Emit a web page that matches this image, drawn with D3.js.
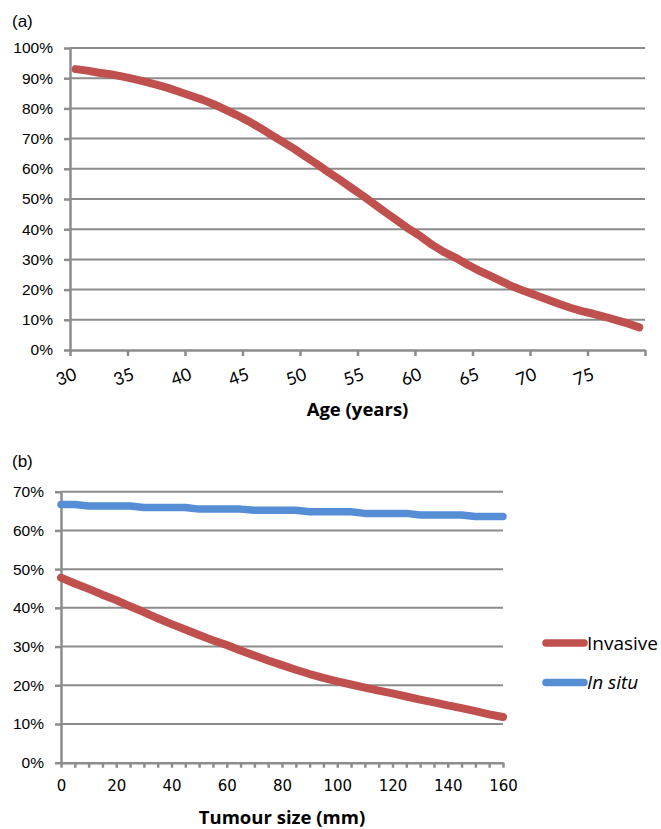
<!DOCTYPE html>
<html><head><meta charset="utf-8">
<script src="https://cdn.jsdelivr.net/npm/d3@7"></script>
<style>body{margin:0;background:#fff}svg{display:block}</style>
</head><body>
<script>
// ---- Data ----
const ages = d3.range(30, 80);
const ageProb = [93.0,92.5,91.8,91.3,90.6,89.8,88.9,87.9,86.8,85.5,
  84.2,82.9,81.4,79.6,77.8,75.8,73.6,71.2,68.9,66.6,
  64.0,61.5,58.8,56.3,53.6,51.0,48.2,45.4,42.7,40.0,
  37.6,34.8,32.5,30.6,28.4,26.4,24.6,22.8,21.0,19.5,
  18.1,16.7,15.3,14.0,12.9,12.0,11.0,9.9,8.8,7.5];
const ageTickLabels = [30,35,40,45,50,55,60,65,70,75];
const pctTicksA = [0,10,20,30,40,50,60,70,80,90,100];

const sizes = d3.range(0, 161, 5);
const invasive = [47.8,46.3,44.9,43.4,42.0,40.4,38.9,37.3,35.8,34.4,
  33.0,31.6,30.4,29.0,27.7,26.4,25.2,24.0,22.9,21.9,
  21.0,20.2,19.4,18.6,17.9,17.1,16.3,15.6,14.8,14.1,13.3,12.5,11.8];
const inSitu = [66.7,66.7,66.3,66.3,66.3,66.3,65.9,65.9,65.9,65.9,
  65.5,65.5,65.5,65.5,65.2,65.2,65.2,65.2,64.8,64.8,
  64.8,64.8,64.4,64.4,64.4,64.4,64.0,64.0,64.0,64.0,63.6,63.6,63.6];
const sizeTickLabels = [0,20,40,60,80,100,120,140,160];
const pctTicksB = [0,10,20,30,40,50,60,70];
const seriesNames = ["Invasive","In situ"];

const RED = "#c0504d", BLUE = "#558ed5", GRID = "#8c8c8c";

const svg = d3.select("body").append("svg").attr("width",661).attr("height",829);

// ---- Panel (a) ----
const xA = d3.scaleLinear().domain([29.5, 79.5]).range([70, 645]);
const yA = d3.scaleLinear().domain([0, 100]).range([350, 48]);
const gA = svg.append("g");
gA.append("text").attr("x",12).attr("y",27).text("(a)")
  .style("font-family","Liberation Sans, Arial").style("font-size","17px");
gA.selectAll("line.grid").data(pctTicksA.filter(d=>d>0)).join("line")
  .attr("x1",xA.range()[0]).attr("x2",xA.range()[1])
  .attr("y1",d=>yA(d)).attr("y2",d=>yA(d))
  .attr("stroke",GRID).attr("stroke-width",2);
const yAxA = d3.axisLeft(yA).tickValues(pctTicksA).tickFormat(d=>d+"%").tickSize(6).tickSizeOuter(0);
const gyA = gA.append("g").attr("transform",`translate(${xA.range()[0]},0)`).call(yAxA);
const xTickVals = d3.range(29.5, 80, 5);
const xAxA = d3.axisBottom(xA).tickValues(xTickVals).tickFormat("").tickSize(6).tickSizeOuter(0);
const gxA = gA.append("g").attr("transform",`translate(0,${yA(0)})`).call(xAxA);
[gyA,gxA].forEach(g=>{
  g.selectAll("path,line").attr("stroke",GRID).attr("stroke-width",2.5);
});
gyA.selectAll("text").style("font-family","Liberation Sans, Arial").style("font-size","15.5px")
  .attr("fill","#000").attr("x",-17);
gA.selectAll("text.xl").data(ageTickLabels).join("text").attr("class","xl")
  .attr("transform",d=>`translate(${xA(d)+2},379) rotate(-20)`)
  .attr("text-anchor","end").text(d=>d)
  .style("font-family","Lato, Open Sans").style("font-size","17.5px");
gA.append("text").attr("x",(xA.range()[0]+xA.range()[1])/2).attr("y",416)
  .attr("text-anchor","middle").text("Age (years)")
  .style("font-family","Open Sans").style("font-weight","bold").style("font-size","18.5px");
gA.append("path").datum(ages.map((a,i)=>[a,ageProb[i]]))
  .attr("d",d3.line().x(d=>xA(d[0])).y(d=>yA(d[1])))
  .attr("fill","none").attr("stroke",RED).attr("stroke-width",8)
  .attr("stroke-linecap","round").attr("stroke-linejoin","round");

// ---- Panel (b) ----
const xB = d3.scaleLinear().domain([0,160]).range([61, 503]);
const yB = d3.scaleLinear().domain([0,70]).range([762.7, 491.7]);
const gB = svg.append("g");
gB.append("text").attr("x",12).attr("y",467).text("(b)")
  .style("font-family","Liberation Sans, Arial").style("font-size","17px");
gB.selectAll("line.grid").data(pctTicksB.filter(d=>d>0)).join("line")
  .attr("x1",xB.range()[0]).attr("x2",xB.range()[1])
  .attr("y1",d=>yB(d)).attr("y2",d=>yB(d))
  .attr("stroke",GRID).attr("stroke-width",2);
const gyB = gB.append("g").attr("transform",`translate(${xB.range()[0]},0)`)
  .call(d3.axisLeft(yB).tickValues(pctTicksB).tickFormat(d=>d+"%").tickSize(6).tickSizeOuter(0));
const gxB = gB.append("g").attr("transform",`translate(0,${yB(0)})`)
  .call(d3.axisBottom(xB).tickValues(sizes).tickFormat(d=>sizeTickLabels.includes(d)?d:"").tickSize(5).tickSizeOuter(0));
[gyB,gxB].forEach(g=>{
  g.selectAll("path,line").attr("stroke",GRID).attr("stroke-width",2.5);
});
gyB.selectAll("text").style("font-family","Liberation Sans, Arial").style("font-size","15.5px")
  .attr("fill","#000").attr("x",-17);
gxB.selectAll("text").style("font-family","DejaVu Sans, Verdana").style("font-size","15px")
  .attr("fill","#000").attr("y",18);
gB.append("text").attr("x",(xB.range()[0]+xB.range()[1])/2).attr("y",824)
  .attr("text-anchor","middle").text("Tumour size (mm)")
  .style("font-family","Open Sans").style("font-weight","bold").style("font-size","18.5px");
const lineB = d3.line().x(d=>xB(d[0])).y(d=>yB(d[1]));
gB.append("path").datum(sizes.map((s,i)=>[s,inSitu[i]])).attr("d",lineB)
  .attr("fill","none").attr("stroke",BLUE).attr("stroke-width",7.5)
  .attr("stroke-linecap","round").attr("stroke-linejoin","round");
gB.append("path").datum(sizes.map((s,i)=>[s,invasive[i]])).attr("d",lineB)
  .attr("fill","none").attr("stroke",RED).attr("stroke-width",8)
  .attr("stroke-linecap","round").attr("stroke-linejoin","round");
const leg = gB.selectAll("g.leg").data(seriesNames).join("g").attr("class","leg")
  .attr("transform",(d,i)=>`translate(546,${643+i*39.5})`);
leg.append("line").attr("x1",0).attr("x2",38).attr("y1",0).attr("y2",0)
  .attr("stroke",(d,i)=>i?BLUE:RED).attr("stroke-width",7.5).attr("stroke-linecap","round");
leg.append("text").attr("x",41).attr("y",6.5).text(d=>d)
  .style("font-style",(d,i)=>i?"italic":"normal")
  .style("font-family","Open Sans").style("font-size","19px");
</script>
</body></html>
